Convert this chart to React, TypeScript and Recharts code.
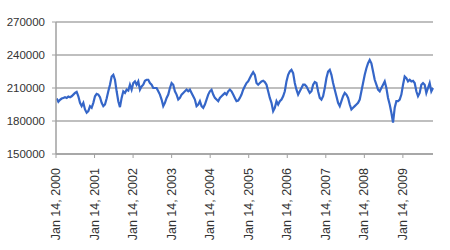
import React from 'react';
import { LineChart, Line, XAxis, YAxis, CartesianGrid } from 'recharts';

// Series values, in time order (roughly every ~2.25 weeks)
const seg2000 = [
  200400, 197400, 199200, 200400, 201000, 201600, 201000, 202200, 201600, 202500,
  204000, 205500, 206400, 202500, 196500, 193500, 196500, 190500, 187500, 189000,
  193500, 192000, 196500, 202500, 204600, 204000, 201600, 196500, 193500, 195000,
  200400, 207000, 213000, 220500, 222000, 217500, 207000, 198000, 192600, 201000,
  207000, 205500, 208500, 207600,
];
const seg2002 = [
  213000, 208500, 214500, 216000, 213000, 216000, 208500, 211500, 213000, 216600,
  217500, 217500, 214500, 213000, 210000, 210000, 210000, 207000, 204000, 199500,
  193500, 196500, 201000, 204000, 210000, 214500, 213000, 207000, 204000, 199500,
  201000, 204000, 205500, 207000, 208500, 207000, 208500, 205500, 202500, 199500,
  193500, 195000, 198000, 193500, 192000,
];
const seg2004 = [
  195000, 199500, 204000, 207000, 208500, 204000, 201000, 199500, 198000, 201000,
  202500, 204000, 205500, 204000, 207000, 208500, 207000, 204000, 201000, 198000,
  198600, 201000, 204000, 208500, 211500, 214500, 216000, 219000, 222000, 224400,
  222000, 214500, 213000, 214500, 216000, 216600, 215400, 213000, 207000, 201000,
  196500, 189000, 192000, 198000, 195000,
];
const seg2006 = [
  198000, 199500, 202500, 207000, 216000, 222000, 225000, 226500, 223500, 214500,
  208500, 204000, 207000, 210000, 213000, 213000, 211500, 208500, 205500, 207000,
  213000, 215400, 214500, 207000, 201000, 199500, 202500, 210000, 219000, 225000,
  226500, 222000, 214500, 208500, 202500, 196500, 193500, 198000, 202500, 205500,
  204000, 201000, 195000, 190500, 192000,
];
const seg2008 = [
  193500, 195000, 196500, 199500, 207000, 214500, 222000, 228000, 232500, 235500,
  232500, 225000, 217500, 213000, 208500, 207000, 210000, 213000, 216000, 210000,
  201000, 195000, 187500, 178500, 192000, 198000, 198000, 199500, 204000, 213000,
  220500, 219000, 216000, 217500, 216000, 216600, 214500, 207000, 202500, 205500,
  213000, 214500, 213000, 205500, 210000, 214500, 207000, 210000,
];

const values = [...seg2000, ...seg2002, ...seg2004, ...seg2006, ...seg2008];

// Sampling times (fractional years from Jan 14, 2000)
const START = 2000.018;
const STEP = 0.0432;

const yearTicks = [2000, 2001, 2002, 2003, 2004, 2005, 2006, 2007, 2008, 2009];
const tickLabels = [
  'Jan 14, 2000', 'Jan 14, 2001', 'Jan 14, 2002', 'Jan 14, 2003', 'Jan 14, 2004',
  'Jan 14, 2005', 'Jan 14, 2006', 'Jan 14, 2007', 'Jan 14, 2008', 'Jan 14, 2009',
];
const yTicks = [150000, 180000, 210000, 240000, 270000];

const data = values.map((v, i) => ({ t: START + i * STEP, v }));

const FONT = '"Liberation Sans", Arial, sans-serif';

const XTick = (props: any) => {
  const { x, y, payload } = props;
  const idx = yearTicks.indexOf(payload.value);
  const label = idx >= 0 ? tickLabels[idx] : '';
  return (
    <text
      x={x}
      y={y}
      transform={`rotate(-90 ${x} ${y})`}
      textAnchor="end"
      dominantBaseline="central"
      fontSize={12.5}
      fontFamily={FONT}
      fill="#333"
    >
      {label}
    </text>
  );
};

export default function App() {
  return (
    <div style={{ position: 'absolute', left: 0, top: 0, width: 450, height: 250, background: '#fff' }}>
      <LineChart
        width={450}
        height={250}
        data={data}
        margin={{ top: 22, right: 17, left: 0, bottom: 0 }}
      >
        <CartesianGrid vertical={false} stroke="#aaaaaa" strokeWidth={1.5} />
        <XAxis
          dataKey="t"
          type="number"
          domain={[2000, 'dataMax']}
          ticks={yearTicks}
          interval={0}
          height={96}
          tick={<XTick />}
          tickSize={4}
          tickMargin={10}
          stroke="#a0a0a0"
          tickLine={{ stroke: '#a0a0a0' }}
          axisLine={{ stroke: '#a0a0a0', strokeWidth: 1.5 }}
        />
        <YAxis
          type="number"
          domain={[150000, 270000]}
          ticks={yTicks}
          interval={0}
          width={56}
          tickSize={4}
          tickMargin={7}
          stroke="#a0a0a0"
          axisLine={{ stroke: '#a0a0a0', strokeWidth: 1.5 }}
          tickLine={{ stroke: '#a0a0a0' }}
          tick={{ fontSize: 11.5, fill: '#333', fontFamily: FONT }}
        />
        <Line
          type="linear"
          dataKey="v"
          stroke="#3566c8"
          strokeWidth={2.2}
          dot={false}
          isAnimationActive={false}
        />
      </LineChart>
    </div>
  );
}
